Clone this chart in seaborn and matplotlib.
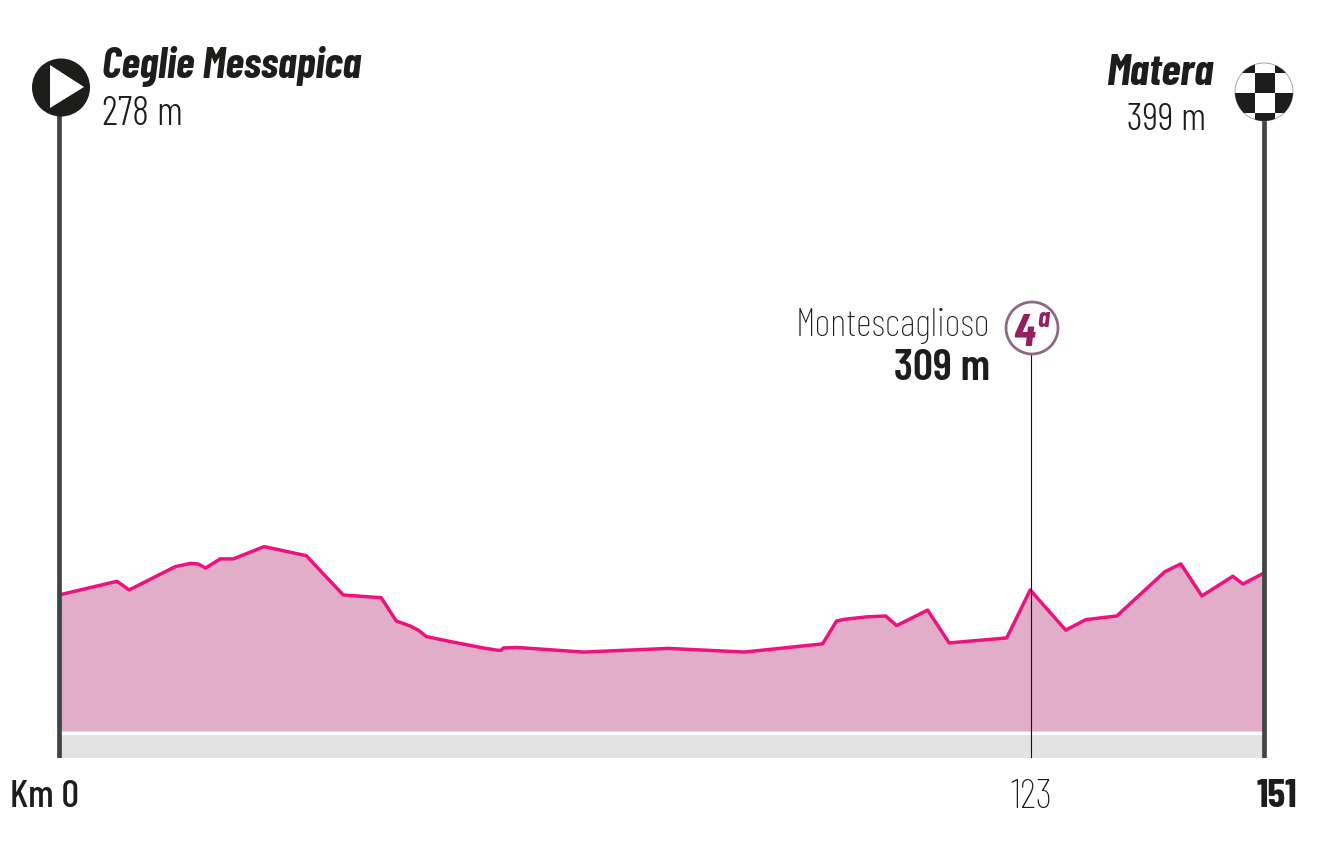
import matplotlib.pyplot as plt
from matplotlib.patches import Circle, Polygon, Rectangle
import pandas as pd
import seaborn as sns

# route profile
km = [0, 7.27, 8.78, 14.55, 16.43, 17.43, 18.37, 20.19, 21.82, 25.71, 30.98, 35.62,
      40.38, 42.26, 44.02, 45.02, 46.02, 49.03, 53.17, 54.93, 55.43, 55.68, 57.44,
      65.71, 76.37, 85.90, 95.69, 97.44, 98.57, 101.20, 103.59, 104.97, 108.85,
      111.55, 118.76, 121.71, 126.16, 128.67, 132.56, 138.58, 140.58, 143.22,
      147.10, 148.36, 151]
elevation = [298, 328, 309, 360, 367, 366, 357, 377, 377, 404, 384, 298,
             292, 241, 230, 221, 207, 196, 182, 177, 177, 182, 183,
             173, 181, 173, 191, 241, 245, 250, 252, 231, 265,
             193, 204, 309, 221, 244, 252, 349, 366, 296,
             339, 322, 346]

route_end = 151
climb_km = 121.85
post_top = 1349
strip_low, strip_high = -59, -9

start_name, start_alt = "Ceglie Messapica", "278 m"
finish_name, finish_alt = "Matera", "399 m"
climb_name, climb_alt, climb_cat = "Montescaglioso", "309 m", "4"
km_labels = ["Km 0", "123", "151"]

INK = "#1D1D1B"
POST = "#3F4444"
NARROW = ["Barlow Condensed", "Roboto", "DejaVu Sans"]

sns.set_theme(style="white")
plt.rcParams['font.family'] = NARROW

profile = pd.DataFrame({"km": km, "elevation": elevation})

fig = plt.figure(figsize=(13.21, 8.48), dpi=100)

# main axes, runs down to the bottom of the grey strip
ax = fig.add_axes([0, 90 / 848, 1, 758 / 848])
ax.fill_between(profile["km"], 0, profile["elevation"], color="#E2ADC9", lw=0, zorder=1)
sns.lineplot(data=profile, x="km", y="elevation", ax=ax, color="#EC1380", lw=2.5,
             zorder=2, errorbar=None, sort=False)
ax.fill_between([0, route_end], strip_low, strip_high, color="#E3E3E3", lw=0, zorder=1)
ax.vlines(climb_km, strip_low, 825, color="#111111", lw=0.8, zorder=3)
ax.vlines([0, route_end], strip_low, post_top, color=POST, lw=3.4, zorder=3)
ax.set_xlim(-7.40, 158.15)
ax.set_ylim(-59, 1601)
ax.set_axis_off()

# overlay in pixels for the icons and the labels
over = fig.add_axes([0, 0, 1, 1])
over.set_xlim(0, 1321)
over.set_ylim(848, 0)
over.set_axis_off()
over.patch.set_alpha(0)

# start icon
over.add_patch(Circle((61, 87.5), 29, color=INK, lw=0))
over.add_patch(Polygon([(50, 65), (50, 108), (84, 87)], color="white", lw=0))

# finish icon
disc = Circle((1264, 92), 29, fc="white", ec="#999999", lw=0.6, zorder=2)
over.add_patch(disc)
for col, row, w, h in [(1235, 63, 20, 10), (1275, 63, 20, 10), (1255, 73, 20, 20),
                       (1235, 93, 20, 20), (1275, 93, 20, 20), (1255, 113, 20, 9)]:
    square = Rectangle((col, row), w, h, color=INK, lw=0, zorder=3)
    over.add_patch(square)
    square.set_clip_path(disc)

# climb badge
over.add_patch(Circle((1032, 328), 26, fc="white", ec="#8E6A80", lw=2, zorder=3))
over.text(1024, 346, climb_cat, color="#96205F", fontsize=33, fontweight=700,
          fontstyle="italic", ha="center", va="baseline", zorder=4)
over.text(1043, 327, "a", color="#96205F", fontsize=20, fontweight=700,
          fontstyle="italic", ha="center", va="baseline", zorder=4)

# place names
over.text(102, 78, start_name, color=INK, fontsize=31, fontweight=700,
          fontstyle="italic", va="baseline")
over.text(102, 125, start_alt, color=INK, fontsize=29, fontweight=300, va="baseline")
over.text(1213, 85, finish_name, color=INK, fontsize=32, fontweight=700,
          fontstyle="italic", ha="right", va="baseline")
over.text(1206, 130, finish_alt, color=INK, fontsize=28, fontweight=300,
          ha="right", va="baseline")
over.text(990, 336, climb_name, color=INK, fontsize=28, fontweight=200,
          ha="right", va="baseline")
over.text(990, 380, climb_alt, color=INK, fontsize=32, fontweight=600,
          ha="right", va="baseline")

# km labels
over.text(44, 807, km_labels[0], color=INK, fontsize=28, fontweight=500,
          ha="center", va="baseline")
over.text(1032, 808, km_labels[1], color=INK, fontsize=30, fontweight=200,
          ha="center", va="baseline")
over.text(1277, 807, km_labels[2], color=INK, fontsize=29, fontweight=700,
          ha="center", va="baseline")

fig.savefig("out.png", dpi=100, facecolor="white")
plt.close()
